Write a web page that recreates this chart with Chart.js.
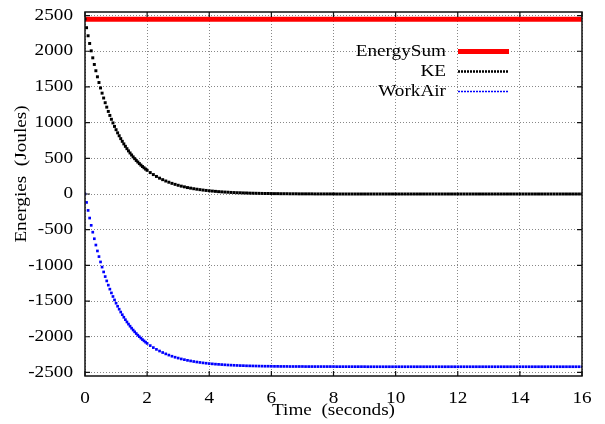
<!DOCTYPE html>
<html>
<head>
<meta charset="utf-8">
<script src="https://cdn.jsdelivr.net/npm/chart.js@4/dist/chart.umd.min.js"></script>
<style>
  html, body { margin: 0; padding: 0; background: #fff; }
  #c { display: block; }
</style>
</head>
<body>
<canvas id="c" width="605" height="424"></canvas>
<script>
// ---- data ----
const timeSec = [
  0,0.05,0.1,0.15,0.2,0.25,0.3,0.35,0.4,0.45,0.5,0.55,0.6,0.65,0.7,0.75,0.8,0.85,0.9,0.95,
  1,1.05,1.1,1.15,1.2,1.25,1.3,1.35,1.4,1.45,1.5,1.55,1.6,1.65,1.7,1.75,1.8,1.85,1.9,1.95,2,
  2.1,2.2,2.3,2.4,2.5,2.6,2.7,2.8,2.9,3,3.1,3.2,3.3,3.4,3.5,3.6,3.7,3.8,3.9,4,
  4.1,4.2,4.3,4.4,4.5,4.6,4.7,4.8,4.9,5,5.1,5.2,5.3,5.4,5.5,5.6,5.7,5.8,5.9,6,
  6.1,6.2,6.3,6.4,6.5,6.6,6.7,6.8,6.9,7,7.1,7.2,7.3,7.4,7.5,7.6,7.7,7.8,7.9,8,
  8.1,8.2,8.3,8.4,8.5,8.6,8.7,8.8,8.9,9,9.1,9.2,9.3,9.4,9.5,9.6,9.7,9.8,9.9,10,
  10.1,10.2,10.3,10.4,10.5,10.6,10.7,10.8,10.9,11,11.1,11.2,11.3,11.4,11.5,11.6,11.7,11.8,11.9,12,
  12.1,12.2,12.3,12.4,12.5,12.6,12.7,12.8,12.9,13,13.1,13.2,13.3,13.4,13.5,13.6,13.7,13.8,13.9,14,
  14.1,14.2,14.3,14.4,14.5,14.6,14.7,14.8,14.9,15,15.1,15.2,15.3,15.4,15.5,15.6,15.7,15.8,15.9,16
];
const keValues = [
  2450,2330,2217,2109,2006,1908,1815,1727,1642,1562,1486,1413,1345,1279,1217,1157,1101,1047,996,947,
  901,857,816,776,738,702,668,635,604,575,547,520,495,470,448,426,405,385,367,349,332,
  300,272,246,222,201,182,165,149,135,122,110,100,90,82,74,67,61,55,50,45,
  41,37,33,30,27,25,22,20,18,17,15,14,12,11,10,9,8,7,7,6,
  5,5,4,4,4,3,3,3,2,2,2,2,2,1,1,1,1,1,1,1,
  0,0,0,0,0,0,0,0,0,0,0,0,0,0,0,0,0,0,0,0,
  0,0,0,0,0,0,0,0,0,0,0,0,0,0,0,0,0,0,0,0,
  0,0,0,0,0,0,0,0,0,0,0,0,0,0,0,0,0,0,0,0,
  0,0,0,0,0,0,0,0,0,0,0,0,0,0,0,0,0,0,0,0
];
const workAirValues = [
  0,-118,-230,-337,-439,-535,-627,-715,-798,-877,-952,-1024,-1092,-1157,-1218,-1277,-1333,-1386,-1436,-1484,
  -1530,-1573,-1614,-1654,-1691,-1727,-1761,-1793,-1823,-1852,-1880,-1906,-1931,-1955,-1978,-1999,-2020,-2040,-2058,-2076,-2093,
  -2124,-2152,-2177,-2200,-2221,-2240,-2257,-2273,-2287,-2299,-2311,-2321,-2331,-2339,-2347,-2354,-2360,-2366,-2371,-2376,
  -2380,-2384,-2387,-2390,-2393,-2396,-2398,-2400,-2402,-2404,-2405,-2407,-2408,-2409,-2410,-2411,-2412,-2413,-2413,-2414,
  -2415,-2415,-2416,-2416,-2416,-2417,-2417,-2417,-2417,-2417,-2418,-2418,-2418,-2418,-2418,-2418,-2418,-2418,-2418,-2418,
  -2419,-2419,-2419,-2419,-2419,-2419,-2419,-2419,-2419,-2419,-2420,-2420,-2420,-2420,-2420,-2420,-2420,-2420,-2420,-2420,
  -2420,-2420,-2420,-2420,-2420,-2420,-2420,-2420,-2420,-2420,-2420,-2420,-2420,-2420,-2420,-2420,-2420,-2420,-2420,-2420,
  -2420,-2420,-2420,-2420,-2420,-2420,-2420,-2420,-2420,-2420,-2420,-2420,-2420,-2420,-2420,-2420,-2420,-2420,-2420,-2420,
  -2420,-2420,-2420,-2420,-2420,-2420,-2420,-2420,-2420,-2420,-2420,-2420,-2420,-2420,-2420,-2420,-2420,-2420,-2420,-2420
];
const energySumTime = [0, 16];
const energySumValues = [2450, 2450];

const seriesNames = ['EnergySum', 'KE', 'WorkAir'];
const xTicks = [0, 2, 4, 6, 8, 10, 12, 14, 16];
const yTicks = [-2500, -2000, -1500, -1000, -500, 0, 500, 1000, 1500, 2000, 2500];
const xTitle = 'Time  (seconds)';
const yTitle = 'Energies  (Joules)';

// ---- rendering ----
const FONT = "'Liberation Serif', 'Times New Roman', serif";
const FS = 16;
const SX = 1.2; // horizontal stretch of the gnuplot-style lettering

const canvas = document.getElementById('c');
const ctx = canvas.getContext('2d');
const origFillText = ctx.fillText.bind(ctx);
ctx.fillText = function (text, x, y) {
  ctx.save();
  ctx.translate(x, y);
  ctx.scale(SX, 1);
  origFillText(text, 0, 0);
  ctx.restore();
};

Chart.defaults.font.family = FONT;
Chart.defaults.font.size = FS;
Chart.defaults.color = '#000';

function pts(xs, ys) { return xs.map((x, i) => ({ x: x, y: ys[i] })); }

const frameAndLegend = {
  id: 'frameAndLegend',
  afterDraw(chart) {
    const c = chart.ctx;
    const a = chart.chartArea;
    const sx = chart.scales.x, sy = chart.scales.y;
    c.save();
    // frame
    c.strokeStyle = '#111';
    c.lineWidth = 1.5;
    c.strokeRect(a.left, a.top, a.right - a.left, a.bottom - a.top);
    // inward tick marks
    c.lineWidth = 1.2;
    c.beginPath();
    xTicks.forEach(v => {
      const px = sx.getPixelForValue(v);
      c.moveTo(px, a.bottom); c.lineTo(px, a.bottom - 5);
      c.moveTo(px, a.top); c.lineTo(px, a.top + 5);
    });
    yTicks.forEach(v => {
      const py = sy.getPixelForValue(v);
      c.moveTo(a.left, py); c.lineTo(a.left + 5, py);
      c.moveTo(a.right, py); c.lineTo(a.right - 5, py);
    });
    c.stroke();

    // y axis title
    c.fillStyle = '#000';
    c.font = FS + 'px ' + FONT;
    c.save();
    c.translate(21.5, 174);
    c.rotate(-Math.PI / 2);
    c.textAlign = 'center';
    c.textBaseline = 'middle';
    c.fillText(yTitle, 0, 0);
    c.restore();

    // legend (text right-aligned, sample on the right)
    const ds = chart.data.datasets;
    const styles = [
      { color: '#ff0000', width: 5, dash: [] },
      { color: '#000000', width: 2.5, dash: [2, 1] },
      { color: '#0000ff', width: 1.5, dash: [2, 1] }
    ];
    const rowY = [51.5, 71.5, 91.5];
    ds.forEach((d, i) => {
      const y = rowY[i];
      c.textAlign = 'right';
      c.textBaseline = 'middle';
      c.fillStyle = '#000';
      c.fillText(d.label, 446, y);
      c.beginPath();
      c.strokeStyle = styles[i].color;
      c.lineWidth = styles[i].width;
      c.setLineDash(styles[i].dash);
      c.moveTo(458, y);
      c.lineTo(509, y);
      c.stroke();
      c.setLineDash([]);
    });
    c.restore();
  }
};

new Chart(ctx, {
  type: 'scatter',
  data: {
    datasets: [
      {
        label: seriesNames[0],
        data: pts(energySumTime, energySumValues),
        showLine: true,
        borderColor: '#ff0000',
        borderWidth: 5,
        pointRadius: 0,
        order: 3
      },
      {
        label: seriesNames[1],
        data: pts(timeSec, keValues),
        showLine: false,
        pointStyle: 'rect',
        pointRadius: 2.1,
        pointBorderWidth: 0,
        pointBackgroundColor: '#000000',
        backgroundColor: '#000000',
        order: 2
      },
      {
        label: seriesNames[2],
        data: pts(timeSec, workAirValues),
        showLine: false,
        pointStyle: 'rect',
        pointRadius: 1.9,
        pointBorderWidth: 0,
        pointBackgroundColor: '#0000ff',
        backgroundColor: '#0000ff',
        order: 1
      }
    ]
  },
  options: {
    responsive: false,
    animation: false,
    events: [],
    layout: { padding: { left: 0, right: 23, top: 12, bottom: 0 } },
    plugins: { legend: { display: false }, tooltip: { enabled: false } },
    scales: {
      x: {
        type: 'linear',
        min: 0, max: 16,
        afterBuildTicks(s) { s.ticks = xTicks.map(v => ({ value: v })); },
        afterFit(s) { s.height = 48; s.paddingLeft = 0; s.paddingRight = 0; },
        ticks: { padding: 13, maxRotation: 0, autoSkip: false, callback: v => String(v) },
        grid: { color: '#888', lineWidth: 1, drawTicks: false },
        border: { display: false, dash: [1, 2] },
        title: { display: true, text: xTitle, padding: { top: 0, bottom: 4 } }
      },
      y: {
        type: 'linear',
        min: -2550, max: 2550,
        afterBuildTicks(s) { s.ticks = yTicks.map(v => ({ value: v })); },
        afterFit(s) { s.width = 85; s.paddingTop = 0; s.paddingBottom = 0; },
        ticks: { padding: 12, autoSkip: false, callback: v => String(v) },
        grid: { color: '#888', lineWidth: 1, drawTicks: false },
        border: { display: false, dash: [1, 2] }
      }
    }
  },
  plugins: [frameAndLegend]
});
</script>
</body>
</html>
